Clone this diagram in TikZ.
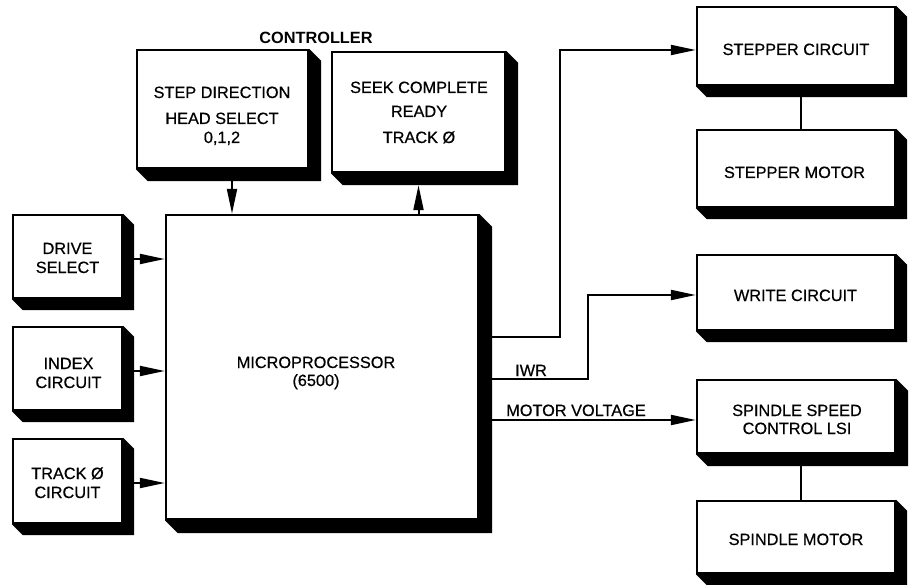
\documentclass[tikz,border=0pt]{standalone}
\usepackage{fontspec}
\setmainfont{Liberation Sans}
\newfontfamily\medfont{Liberation Sans}[FakeBold=0.5]
\usetikzlibrary{arrows.meta,calc}
\tikzset{
  blk/.style={draw, line width=2.4pt, fill=white, rectangle, inner sep=0pt},
  arr/.style={line width=2pt, -{Triangle[length=25pt,width=10pt]}},
  conn/.style={line width=2pt},
  txt/.style={font=\medfont\fontsize{16.3}{19}\selectfont, inner sep=0pt, anchor=base},
}
\newcommand{\shadowof}[2]{%
  \fill (#1.south west) -- ++(#2,#2) -- ($(#1.south east)+(#2,#2)$) -- ($(#1.north east)+(#2,#2)$) -- (#1.north east) -- (#1.south east) -- cycle;}
\begin{document}
\begin{tikzpicture}[x=1pt,y=-1pt]
\useasboundingbox (0,0) rectangle (915,585);
% boxes
\node[blk, minimum width=171pt, minimum height=118pt] (stepdir) at (222.5,109) {};
\node[blk, minimum width=173pt, minimum height=120pt] (seek) at (418.5,112) {};
\node[blk, minimum width=109pt, minimum height=83pt] (drive) at (67.5,256.5) {};
\node[blk, minimum width=109pt, minimum height=83pt] (index) at (67.5,368.5) {};
\node[blk, minimum width=109pt, minimum height=84pt] (track) at (67.5,481) {};
\node[blk, minimum width=312pt, minimum height=304pt] (micro) at (322,367) {};
\node[blk, minimum width=198pt, minimum height=78pt] (stepc) at (796,46) {};
\node[blk, minimum width=198pt, minimum height=77pt] (stepm) at (796,168.5) {};
\node[blk, minimum width=198pt, minimum height=75pt] (write) at (796,292.5) {};
\node[blk, minimum width=198pt, minimum height=73pt] (speed) at (796,416.5) {};
\node[blk, minimum width=198pt, minimum height=72pt] (spm) at (796,537) {};
% shadows
\shadowof{stepdir}{12}
\shadowof{seek}{12}
\shadowof{drive}{11}
\shadowof{index}{11}
\shadowof{track}{11}
\shadowof{micro}{13}
\shadowof{stepc}{11}
\shadowof{stepm}{11}
\shadowof{write}{11}
\shadowof{speed}{12}
\shadowof{spm}{11}
% texts
\node[txt, font=\bfseries\fontsize{16.3}{19}\selectfont] (ctl) at (316,44) {CONTROLLER};
\node[txt] (t-sd1) at (222,98) {STEP DIRECTION};
\node[txt] (t-sd2) at (222,124) {HEAD SELECT};
\node[txt] (t-sd3) at (222,143) {0,1,2};
\node[txt] (t-sk1) at (419,93) {SEEK COMPLETE};
\node[txt] (t-sk2) at (419,117) {READY};
\node[txt] (t-sk3) at (419,143) {TRACK \O};
\node[txt] (t-dr1) at (67.5,254) {DRIVE};
\node[txt] (t-dr2) at (67.5,273) {SELECT};
\node[txt] (t-ix1) at (68.5,369) {INDEX};
\node[txt] (t-ix2) at (68.5,388) {CIRCUIT};
\node[txt] (t-tr1) at (67.5,479) {TRACK \O};
\node[txt] (t-tr2) at (67.5,498) {CIRCUIT};
\node[txt] (t-mp1) at (316,368) {MICROPROCESSOR};
\node[txt] (t-mp2) at (316,386) {(6500)};
\node[txt] (t-sc) at (796,55) {STEPPER CIRCUIT};
\node[txt] (t-sm) at (794.5,178) {STEPPER MOTOR};
\node[txt] (t-wc) at (795.5,301) {WRITE CIRCUIT};
\node[txt] (t-ss1) at (797,416) {SPINDLE SPEED};
\node[txt] (t-ss2) at (797,434) {CONTROL LSI};
\node[txt] (t-spm) at (796,545) {SPINDLE MOTOR};
% connectors top
\draw[arr] ([xshift=9.5pt,yshift=-12pt]stepdir.south) -- ([xshift=9.5pt]stepdir.south |- micro.north);
\draw[arr] (micro.north -| seek.south) -- ([yshift=-12pt]seek.south);
% left arrows
\draw[arr] ([xshift=11pt,yshift=-2.5pt]drive.east) -- ([yshift=-2.5pt]drive.east -| micro.west);
\draw[arr] ([xshift=11pt,yshift=-2.5pt]index.east) -- ([yshift=-2.5pt]index.east -| micro.west);
\draw[arr] ([xshift=11pt,yshift=-2pt]track.east) -- ([yshift=-2pt]track.east -| micro.west);
% right connectors
\coordinate (mr) at ([xshift=13pt]micro.east);
\coordinate (o1) at ([yshift=30pt]mr);
\coordinate (o2) at ([yshift=-12pt]mr);
\coordinate (sct) at ([yshift=-4pt]stepc.west);
\coordinate (wrt) at ([yshift=-2.5pt]write.west);
\coordinate (spt) at ([yshift=-3.5pt]speed.west);
\draw[arr] (o1) -- ++(68,0) |- (sct);
\draw[arr] (o2) -- ++(96,0) |- (wrt);
\draw[arr] (mr |- spt) -- (spt);
\node[txt, anchor=base west] (iwr) at (515,376) {IWR};
\node[txt] (mv) at (576,416) {MOTOR VOLTAGE};
% vertical links
\draw[conn] ([xshift=5pt,yshift=-11pt]stepc.south) -- ([xshift=5pt]stepm.north);
\draw[conn] ([xshift=5pt,yshift=-12pt]speed.south) -- ([xshift=5pt]spm.north);
\end{tikzpicture}
\end{document}
